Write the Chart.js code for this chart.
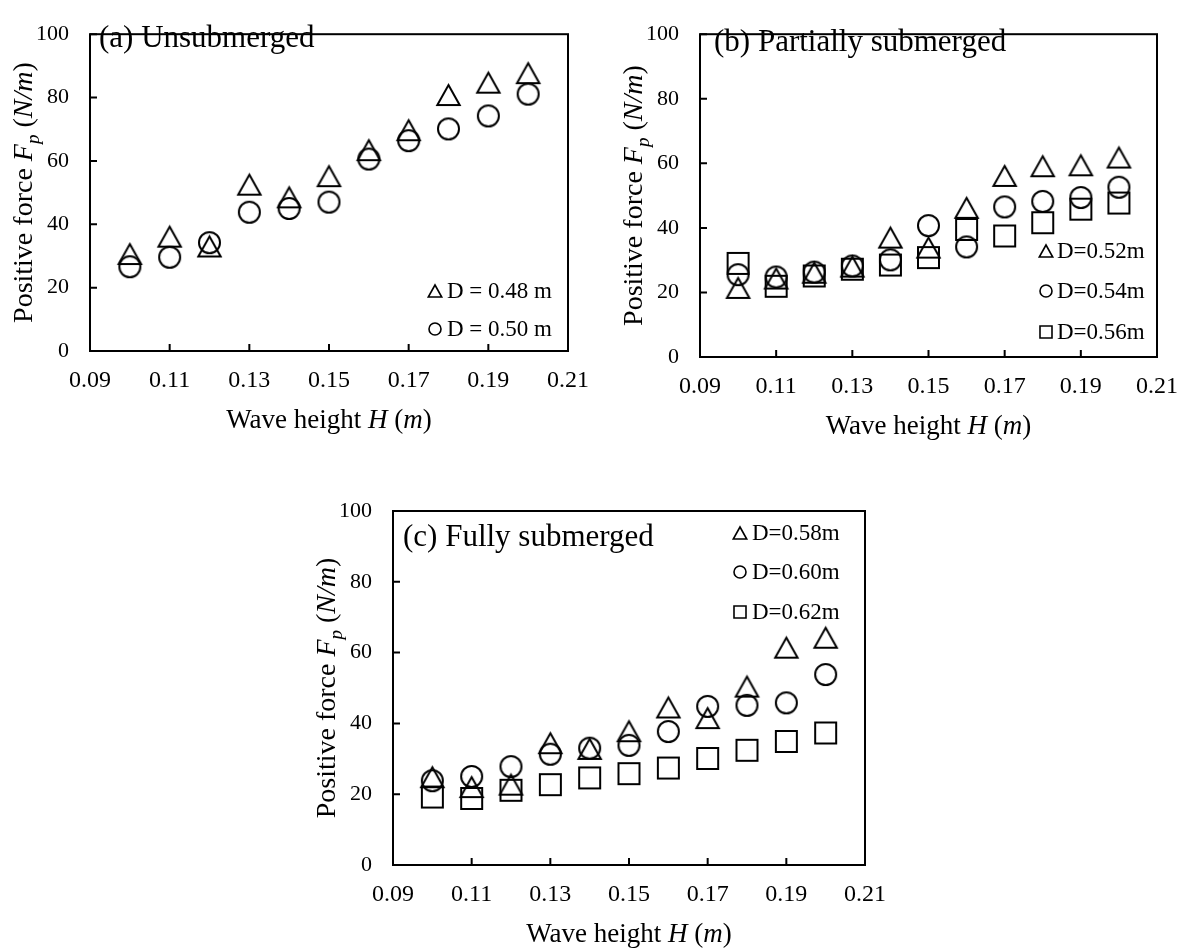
<!DOCTYPE html>
<html>
<head>
<meta charset="utf-8">
<script src="https://cdn.jsdelivr.net/npm/chart.js@4.4.0/dist/chart.umd.min.js"></script>
<style>
  html, body { margin: 0; padding: 0; background: #fff; }
  #wrap { position: relative; width: 1193px; height: 949px; }
  #wrap canvas { position: absolute; left: 0; top: 0; }
</style>
</head>
<body>
<div id="wrap">
  <canvas id="chartA" width="1193" height="949"></canvas>
  <canvas id="chartB" width="1193" height="949"></canvas>
  <canvas id="chartC" width="1193" height="949"></canvas>
</div>
<script>
// wave height H (m) for every series
const waveHeight = [0.10, 0.11, 0.12, 0.13, 0.14, 0.15, 0.16, 0.17, 0.18, 0.19, 0.20];
const xTicks = [0.09, 0.11, 0.13, 0.15, 0.17, 0.19, 0.21];
const yTicks = [0, 20, 40, 60, 80, 100];

// (a) unsubmerged
const forceD048 = [30.6, 36.1, 33.0, 52.5, 48.5, 55.2, 63.4, 69.7, 80.8, 84.7, 87.7];
const forceD050 = [26.6, 29.6, 34.2, 43.8, 45.0, 47.0, 60.6, 66.4, 70.1, 74.2, 81.1];
// (b) partially submerged
const forceD052 = [21.4, 24.3, 26.1, 28.0, 37.0, 33.9, 46.2, 56.1, 59.1, 59.4, 61.8];
const forceD054 = [25.5, 24.8, 26.3, 28.2, 30.1, 40.7, 34.1, 46.5, 48.2, 49.4, 52.6];
const forceD056 = [29.0, 21.9, 25.1, 27.2, 28.5, 30.8, 39.5, 37.5, 41.6, 45.8, 47.7];
// (c) fully submerged
const forceD058 = [24.8, 22.0, 22.7, 34.4, 32.8, 37.8, 44.5, 41.5, 50.4, 61.4, 64.2];
const forceD060 = [23.8, 25.0, 27.8, 31.3, 33.0, 33.8, 37.7, 44.8, 45.1, 45.8, 53.8];
const forceD062 = [19.2, 18.8, 21.1, 22.7, 24.6, 25.8, 27.4, 30.1, 32.4, 34.9, 37.3];

const FONT = '"Liberation Serif", "Times New Roman", serif';
const PAGE_W = 1193, PAGE_H = 949;
const Y_AXIS_W = 70, X_AXIS_H = 40;

// open markers drawn on small canvases, centred on their bounding box (like Excel)
function marker(shape, size, lw) {
  const c = document.createElement('canvas');
  const w = shape === 'triangle' ? size * 1.12 : size;
  const h = size;
  const pad = Math.ceil(lw) + 1;
  c.width = Math.ceil(w + pad * 2);
  c.height = Math.ceil(h + pad * 2);
  const ctx = c.getContext('2d');
  const cx = c.width / 2, cy = c.height / 2;
  ctx.strokeStyle = '#000';
  ctx.lineWidth = lw;
  ctx.beginPath();
  if (shape === 'triangle') {
    ctx.moveTo(cx, cy - h / 2);
    ctx.lineTo(cx + w / 2, cy + h / 2);
    ctx.lineTo(cx - w / 2, cy + h / 2);
    ctx.closePath();
  } else if (shape === 'circle') {
    ctx.arc(cx, cy, size / 2, 0, Math.PI * 2);
  } else {
    ctx.rect(cx - w / 2, cy - h / 2, w, h);
  }
  ctx.stroke();
  return c;
}

const big = {
  triangle: marker('triangle', 20, 2),
  circle: marker('circle', 21, 2),
  square: marker('square', 21, 2)
};
const small = {
  triangle: marker('triangle', 12, 1.6),
  circle: marker('circle', 12, 1.6),
  square: marker('square', 12, 1.6)
};

function drawRich(ctx, parts, size, cx, cy) {
  const fontFor = p => `${p.it ? 'italic ' : ''}${p.sub ? Math.round(size * 0.68) : size}px ${FONT}`;
  let total = 0;
  parts.forEach(p => { ctx.font = fontFor(p); total += ctx.measureText(p.t).width; });
  let x = cx - total / 2;
  ctx.textAlign = 'left';
  ctx.textBaseline = 'alphabetic';
  parts.forEach(p => {
    ctx.font = fontFor(p);
    ctx.fillText(p.t, x, cy + size * 0.33 + (p.sub ? size * 0.25 : 0));
    x += ctx.measureText(p.t).width;
  });
}

const yTitle = [
  { t: 'Positive force ' }, { t: 'F', it: true }, { t: 'p', it: true, sub: true },
  { t: ' (' }, { t: 'N/m', it: true }, { t: ')' }
];
const xTitle = [
  { t: 'Wave height ' }, { t: 'H', it: true }, { t: ' (' }, { t: 'm', it: true }, { t: ')' }
];

const decor = {
  id: 'decor',
  beforeDatasetsDraw(chart) {
    const ctx = chart.ctx, a = chart.chartArea;
    const xs = chart.scales.x, ys = chart.scales.y;
    ctx.save();
    ctx.strokeStyle = '#000';
    ctx.lineWidth = 2;
    ctx.strokeRect(a.left, a.top, a.right - a.left, a.bottom - a.top);
    ctx.beginPath();
    xs.ticks.forEach(t => {
      const px = xs.getPixelForValue(t.value);
      ctx.moveTo(px, a.bottom);
      ctx.lineTo(px, a.bottom - 7);
    });
    ys.ticks.forEach(t => {
      const py = ys.getPixelForValue(t.value);
      ctx.moveTo(a.left, py);
      ctx.lineTo(a.left + 7, py);
    });
    ctx.stroke();
    ctx.restore();
  },
  afterDraw(chart, args, opts) {
    const ctx = chart.ctx, a = chart.chartArea;
    ctx.save();
    ctx.fillStyle = '#000';

    // panel title
    ctx.font = `${opts.titleSize}px ${FONT}`;
    ctx.textAlign = 'left';
    ctx.textBaseline = 'alphabetic';
    ctx.fillText(opts.title, opts.titleX, opts.titleY);

    // axis titles
    drawRich(ctx, xTitle, opts.xTitleSize, (a.left + a.right) / 2, a.bottom + 68);
    ctx.save();
    ctx.translate(a.left - 67, (a.top + a.bottom) / 2);
    ctx.rotate(-Math.PI / 2);
    drawRich(ctx, yTitle, opts.yTitleSize, 0, 0);
    ctx.restore();

    // legend inside the plot
    ctx.font = `${opts.legendSize}px ${FONT}`;
    ctx.textBaseline = 'middle';
    opts.legend.forEach((item, i) => {
      const y = opts.legendRows[i];
      const m = item.marker;
      ctx.drawImage(m, opts.legendMarkerX - m.width / 2, y - m.height / 2);
      ctx.fillText(item.text, opts.legendTextX, y + 1);
    });
    ctx.restore();
  }
};

function makeDataset(values, style) {
  return {
    data: waveHeight.map((x, i) => ({ x: x, y: values[i] })),
    pointStyle: style,
    pointRadius: 11,
    showLine: false
  };
}

function makeChart(id, box, datasets, deco) {
  return new Chart(document.getElementById(id), {
    type: 'scatter',
    data: { datasets: datasets },
    plugins: [decor],
    options: {
      responsive: false,
      animation: false,
      events: [],
      devicePixelRatio: 1,
      layout: {
        padding: {
          left: box.left - Y_AXIS_W,
          top: box.top,
          right: PAGE_W - box.right,
          bottom: PAGE_H - box.bottom - X_AXIS_H
        }
      },
      scales: {
        x: {
          type: 'linear',
          min: 0.09,
          max: 0.21,
          afterBuildTicks: s => { s.ticks = xTicks.map(v => ({ value: v })); },
          afterFit: s => { s.height = X_AXIS_H; },
          grid: { display: false, drawTicks: false },
          border: { display: false },
          ticks: {
            color: '#000',
            padding: 15,
            maxRotation: 0,
            font: { family: FONT, size: 24 },
            callback: v => v.toFixed(2)
          }
        },
        y: {
          type: 'linear',
          min: 0,
          max: 100,
          afterBuildTicks: s => { s.ticks = yTicks.map(v => ({ value: v })); },
          afterFit: s => { s.width = Y_AXIS_W; },
          grid: { display: false, drawTicks: false },
          border: { display: false },
          ticks: {
            color: '#000',
            padding: 21,
            font: { family: FONT, size: 22 }
          }
        }
      },
      plugins: {
        legend: { display: false },
        tooltip: { enabled: false },
        decor: Object.assign({ titleSize: 31, xTitleSize: 27, yTitleSize: 28, legendSize: 23 }, deco)
      }
    }
  });
}

makeChart('chartA', { left: 90, top: 16, right: 568, bottom: 351 },
  [makeDataset(forceD048, big.triangle), makeDataset(forceD050, big.circle)],
  {
    title: '(a) Unsubmerged', titleX: 99, titleY: 47,
    legend: [
      { marker: small.triangle, text: 'D = 0.48 m' },
      { marker: small.circle, text: 'D = 0.50 m' }
    ],
    legendMarkerX: 435, legendTextX: 447, legendRows: [291, 329]
  });

makeChart('chartB', { left: 700, top: 12, right: 1169, bottom: 357 },
  [makeDataset(forceD052, big.triangle), makeDataset(forceD054, big.circle), makeDataset(forceD056, big.square)],
  {
    title: '(b) Partially submerged', titleX: 714, titleY: 51,
    legend: [
      { marker: small.triangle, text: 'D=0.52m' },
      { marker: small.circle, text: 'D=0.54m' },
      { marker: small.square, text: 'D=0.56m' }
    ],
    legendMarkerX: 1046, legendTextX: 1057, legendRows: [251, 291, 332]
  });

makeChart('chartC', { left: 393, top: 511, right: 865, bottom: 865 },
  [makeDataset(forceD058, big.triangle), makeDataset(forceD060, big.circle), makeDataset(forceD062, big.square)],
  {
    title: '(c) Fully submerged', titleX: 403, titleY: 546,
    legend: [
      { marker: small.triangle, text: 'D=0.58m' },
      { marker: small.circle, text: 'D=0.60m' },
      { marker: small.square, text: 'D=0.62m' }
    ],
    legendMarkerX: 740, legendTextX: 752, legendRows: [533, 572, 612]
  });
</script>
</body>
</html>
